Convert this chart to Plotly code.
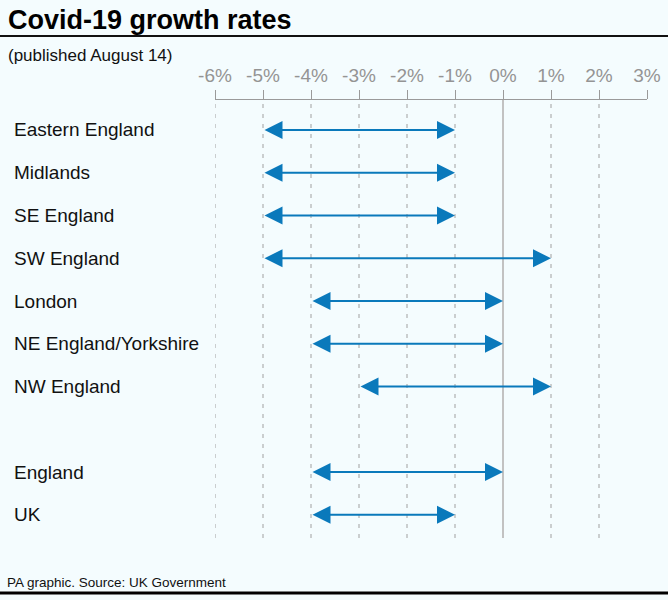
import plotly.graph_objects as go

# ---- data ----
regions = ["Eastern England", "Midlands", "SE England", "SW England", "London",
           "NE England/Yorkshire", "NW England", "England", "UK"]
low = [-5, -5, -5, -5, -4, -4, -3, -4, -4]
high = [-1, -1, -1, 1, 0, 0, 1, 0, -1]
tick_values = [-6, -5, -4, -3, -2, -1, 0, 1, 2, 3]
tick_labels = ["-6%", "-5%", "-4%", "-3%", "-2%", "-1%", "0%", "1%", "2%", "3%"]
grid_values = [-6, -5, -4, -3, -2, -1, 1, 2]

title = "Covid-19 growth rates"
subtitle = "(published August 14)"
footer = "PA graphic. Source: UK Government"

# row positions (gap before the England / UK group)
rows = [0, 1, 2, 3, 4, 5, 6, 8, 9]

W, H = 668, 600
BG = "#f4fcfe"
BLUE = "#0a79bb"
FONT = "Liberation Sans, Arial, sans-serif"

def px_x(p):
    return p / W

def px_y(p):
    return 1 - p / H

# plot area in pixels
X0, X1 = 215, 647
Y0, Y1 = 100, 538
ROW0, ROWSTEP = 130, 42.75

fig = go.Figure()

fig.add_trace(go.Scatter(
    x=low + high, y=rows + rows, mode="markers",
    marker=dict(opacity=0), hoverinfo="skip", showlegend=False,
))

annotations = []
shapes = []

# gridlines
for v in grid_values:
    shapes.append(dict(type="line", xref="x", yref="paper", x0=v, x1=v,
                       y0=px_y(Y1), y1=px_y(Y0), layer="below",
                       line=dict(color="#a0a0a0", width=1, dash="4px,6px")))
shapes.append(dict(type="line", xref="x", yref="paper", x0=0, x1=0,
                   y0=px_y(Y1), y1=px_y(Y0), layer="below",
                   line=dict(color="#c2c2c2", width=2)))

# title rule and bottom rule
shapes.append(dict(type="line", xref="paper", yref="paper", x0=0, x1=1,
                   y0=px_y(36), y1=px_y(36), line=dict(color="#111111", width=2)))
shapes.append(dict(type="line", xref="paper", yref="paper", x0=0, x1=1,
                   y0=px_y(593), y1=px_y(593), line=dict(color="#000000", width=3)))

# arrows
for r, lo, hi in zip(rows, low, high):
    annotations.append(dict(
        x=hi, y=r, ax=lo, ay=r, xref="x", yref="y", axref="x", ayref="y",
        text="", showarrow=True, arrowhead=2, startarrowhead=2,
        arrowside="end+start", arrowsize=1.8, startarrowsize=1.8,
        arrowwidth=2, arrowcolor=BLUE, standoff=0, startstandoff=0,
    ))

# row labels
for r, name in zip(rows, regions):
    annotations.append(dict(
        x=px_x(12), y=r, xref="paper", yref="y", xanchor="left", yanchor="middle",
        text=name, showarrow=False, font=dict(family=FONT, size=19, color="#111111"),
    ))

# title, subtitle, footer
annotations.append(dict(x=px_x(6), y=px_y(20), xref="paper", yref="paper",
                        xanchor="left", yanchor="middle", showarrow=False,
                        text="<b>" + title + "</b>",
                        font=dict(family=FONT, size=27, color="#000000")))
annotations.append(dict(x=px_x(6), y=px_y(55), xref="paper", yref="paper",
                        xanchor="left", yanchor="middle", showarrow=False,
                        text=subtitle, font=dict(family=FONT, size=17, color="#111111")))
annotations.append(dict(x=px_x(5), y=px_y(582), xref="paper", yref="paper",
                        xanchor="left", yanchor="middle", showarrow=False,
                        text=footer, font=dict(family=FONT, size=13.5, color="#111111")))

ymin = (Y0 - ROW0) / ROWSTEP
ymax = (Y1 - ROW0) / ROWSTEP

fig.update_layout(
    width=W, height=H, autosize=False,
    margin=dict(l=0, r=0, t=0, b=0, pad=0, autoexpand=False),
    paper_bgcolor=BG, plot_bgcolor=BG,
    showlegend=False,
    xaxis=dict(
        domain=[px_x(X0), px_x(X1)], range=[-6, 3], side="top",
        tickmode="array", tickvals=tick_values, ticktext=tick_labels,
        ticks="outside", ticklen=9, tickwidth=1, tickcolor="#9a9a9a",
        showline=True, linecolor="#9a9a9a", linewidth=1,
        showgrid=False, zeroline=False, automargin=False,
        tickfont=dict(family=FONT, size=19, color="#949494"),
        fixedrange=True,
    ),
    yaxis=dict(
        domain=[px_y(Y1), px_y(Y0)], range=[ymax, ymin], visible=False,
        showgrid=False, zeroline=False, fixedrange=True, automargin=False,
    ),
    shapes=shapes,
    annotations=annotations,
)

fig.write_html("out.html")
